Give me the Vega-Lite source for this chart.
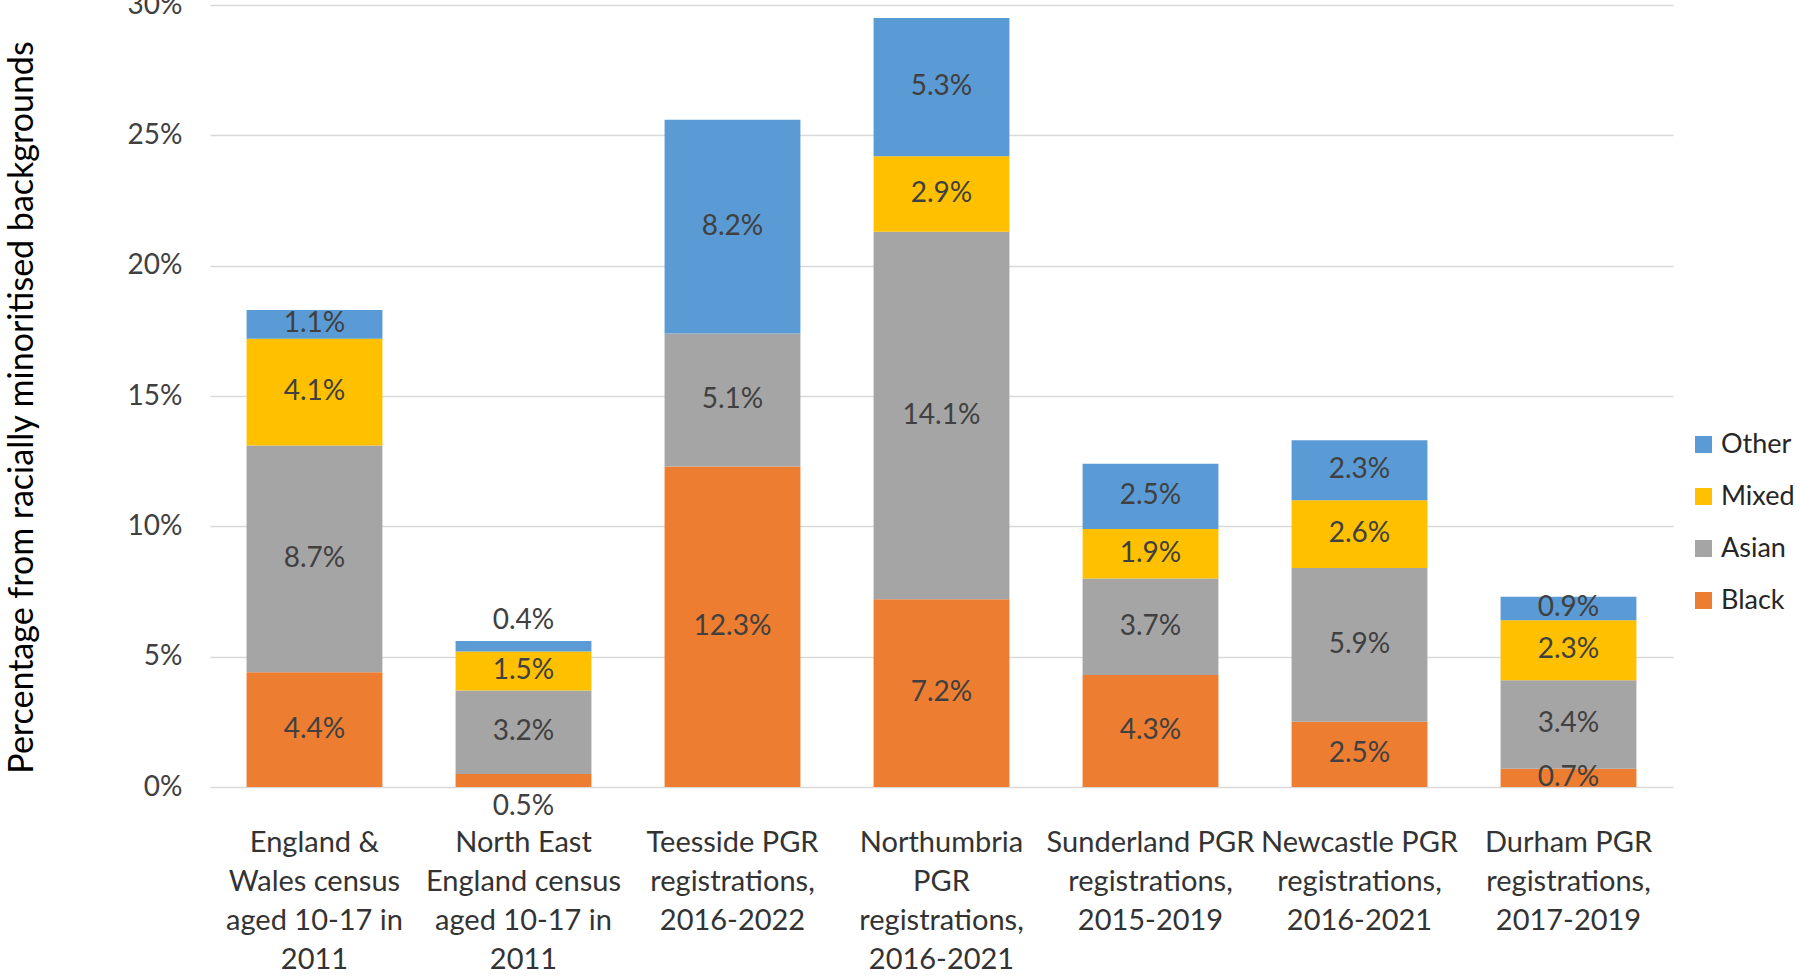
{
  "$schema": "https://vega.github.io/schema/vega-lite/v6.json",
  "width": 1463,
  "height": 782,
  "autosize": {"type": "none"},
  "padding": {"left": 210, "top": 5, "right": 127, "bottom": 189},
  "background": "white",
  "config": {
    "font": "Lato",
    "view": {"stroke": null},
    "axis": {"labelFont": "Lato", "titleFont": "Lato"},
    "legend": {"labelFont": "Lato"}
  },
  "data": {
    "values": [
      {"category": "England &\nWales census\naged 10-17 in\n2011", "race": "Black", "rank": 1, "value": 0.044},
      {"category": "England &\nWales census\naged 10-17 in\n2011", "race": "Asian", "rank": 2, "value": 0.087},
      {"category": "England &\nWales census\naged 10-17 in\n2011", "race": "Mixed", "rank": 3, "value": 0.041},
      {"category": "England &\nWales census\naged 10-17 in\n2011", "race": "Other", "rank": 4, "value": 0.011},
      {"category": "North East\nEngland census\naged 10-17 in\n2011", "race": "Black", "rank": 1, "value": 0.005},
      {"category": "North East\nEngland census\naged 10-17 in\n2011", "race": "Asian", "rank": 2, "value": 0.032},
      {"category": "North East\nEngland census\naged 10-17 in\n2011", "race": "Mixed", "rank": 3, "value": 0.015},
      {"category": "North East\nEngland census\naged 10-17 in\n2011", "race": "Other", "rank": 4, "value": 0.004},
      {"category": "Teesside PGR\nregistrations,\n2016-2022", "race": "Black", "rank": 1, "value": 0.123},
      {"category": "Teesside PGR\nregistrations,\n2016-2022", "race": "Asian", "rank": 2, "value": 0.051},
      {"category": "Teesside PGR\nregistrations,\n2016-2022", "race": "Other", "rank": 4, "value": 0.082},
      {"category": "Northumbria\nPGR\nregistrations,\n2016-2021", "race": "Black", "rank": 1, "value": 0.072},
      {"category": "Northumbria\nPGR\nregistrations,\n2016-2021", "race": "Asian", "rank": 2, "value": 0.141},
      {"category": "Northumbria\nPGR\nregistrations,\n2016-2021", "race": "Mixed", "rank": 3, "value": 0.029},
      {"category": "Northumbria\nPGR\nregistrations,\n2016-2021", "race": "Other", "rank": 4, "value": 0.053},
      {"category": "Sunderland PGR\nregistrations,\n2015-2019", "race": "Black", "rank": 1, "value": 0.043},
      {"category": "Sunderland PGR\nregistrations,\n2015-2019", "race": "Asian", "rank": 2, "value": 0.037},
      {"category": "Sunderland PGR\nregistrations,\n2015-2019", "race": "Mixed", "rank": 3, "value": 0.019},
      {"category": "Sunderland PGR\nregistrations,\n2015-2019", "race": "Other", "rank": 4, "value": 0.025},
      {"category": "Newcastle PGR\nregistrations,\n2016-2021", "race": "Black", "rank": 1, "value": 0.025},
      {"category": "Newcastle PGR\nregistrations,\n2016-2021", "race": "Asian", "rank": 2, "value": 0.059},
      {"category": "Newcastle PGR\nregistrations,\n2016-2021", "race": "Mixed", "rank": 3, "value": 0.026},
      {"category": "Newcastle PGR\nregistrations,\n2016-2021", "race": "Other", "rank": 4, "value": 0.023},
      {"category": "Durham PGR\nregistrations,\n2017-2019", "race": "Black", "rank": 1, "value": 0.007},
      {"category": "Durham PGR\nregistrations,\n2017-2019", "race": "Asian", "rank": 2, "value": 0.034},
      {"category": "Durham PGR\nregistrations,\n2017-2019", "race": "Mixed", "rank": 3, "value": 0.023},
      {"category": "Durham PGR\nregistrations,\n2017-2019", "race": "Other", "rank": 4, "value": 0.009}
    ]
  },
  "encoding": {
    "x": {
      "field": "category",
      "type": "nominal",
      "sort": null,
      "scale": {"paddingInner": 0.35, "paddingOuter": 0.175},
      "axis": {
        "title": null,
        "labelAngle": 0,
        "labelExpr": "split(datum.label, '\\n')",
        "labelFontSize": 29,
        "labelLineHeight": 39,
        "labelColor": "#333333",
        "labelPadding": 41,
        "labelBaseline": "top",
        "labelLimit": 400,
        "ticks": false,
        "domain": false
      }
    }
  },
  "layer": [
    {
      "mark": {"type": "bar"},
      "encoding": {
        "y": {
          "field": "value",
          "type": "quantitative",
          "stack": "zero",
          "scale": {"domain": [0, 0.3], "nice": false},
          "axis": {
            "format": ".0%",
            "values": [0, 0.05, 0.1, 0.15, 0.2, 0.25, 0.3],
            "labelFontSize": 28,
            "labelColor": "#404040",
            "labelPadding": 28,
            "ticks": false,
            "domain": false,
            "gridColor": "#d9d9d9",
            "gridWidth": 1.5,
            "title": "Percentage from racially minoritised backgrounds",
            "titleFontSize": 34,
            "titleFontWeight": "normal",
            "titleColor": "#000000",
            "titleAngle": -90,
            "titleX": -188,
            "titleY": 402,
            "titleAlign": "center",
            "titleBaseline": "middle"
          }
        },
        "color": {
          "field": "race",
          "type": "nominal",
          "scale": {
            "domain": ["Other", "Mixed", "Asian", "Black"],
            "range": ["#5B9BD5", "#FFC000", "#A5A5A5", "#ED7D31"]
          },
          "legend": {
            "title": null,
            "orient": "none",
            "legendX": 1480,
            "legendY": 426,
            "symbolType": "square",
            "symbolSize": 289,
            "symbolStrokeWidth": 0,
            "labelFontSize": 27,
            "labelColor": "#262626",
            "labelOffset": 4,
            "rowPadding": 24,
            "padding": 0
          }
        },
        "order": {"field": "rank", "type": "quantitative"}
      }
    },
    {
      "mark": {"type": "text", "fontSize": 28, "color": "#404040", "baseline": "middle"},
      "encoding": {
        "y": {"field": "value", "type": "quantitative", "stack": "zero", "bandPosition": 0.5},
        "detail": {"field": "race"},
        "order": {"field": "rank", "type": "quantitative"},
        "text": {
          "condition": {"test": "indexof(datum.category, 'North East') == 0 && (datum.race == 'Other' || datum.race == 'Black')", "value": ""},
          "field": "value",
          "type": "quantitative",
          "format": ".1%"
        }
      }
    },
    {
      "transform": [
        {"joinaggregate": [{"op": "sum", "field": "value", "as": "total"}], "groupby": ["category"]},
        {"filter": "indexof(datum.category, 'North East') == 0 && datum.race == 'Other'"}
      ],
      "mark": {"type": "text", "fontSize": 28, "color": "#404040", "baseline": "bottom", "dy": -6},
      "encoding": {
        "y": {"field": "total", "type": "quantitative"},
        "text": {"field": "value", "type": "quantitative", "format": ".1%"}
      }
    },
    {
      "transform": [
        {"filter": "indexof(datum.category, 'North East') == 0 && datum.race == 'Black'"}
      ],
      "mark": {"type": "text", "fontSize": 28, "color": "#404040", "baseline": "top", "dy": 6},
      "encoding": {
        "y": {"datum": 0, "type": "quantitative"},
        "text": {"field": "value", "type": "quantitative", "format": ".1%"}
      }
    }
  ]
}
